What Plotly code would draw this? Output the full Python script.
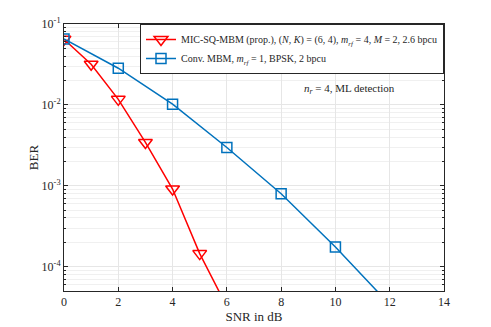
import plotly.graph_objects as go

snr_prop = [0, 1, 2, 3, 4, 5, 6]
ber_prop = [0.0648, 0.0318, 0.0117, 0.00343, 9.1e-4, 1.45e-4, 3.2e-5]

snr_conv = [0, 2, 4, 6, 8, 10, 12]
ber_conv = [0.0652, 0.0284, 0.0102, 0.00297, 7.96e-4, 1.75e-4, 3.4e-5]

y_tickvals = [1e-4, 1e-3, 1e-2, 1e-1]
y_ticktext = ["10<sup>-4</sup>", "10<sup>-3</sup>", "10<sup>-2</sup>", "10<sup>-1</sup>"]
y_minorvals = [m * 10.0 ** e for e in range(-5, -1) for m in range(2, 10)]

name_prop = ("MIC-SQ-MBM (prop.), (<i>N</i>, <i>K</i>) = (6, 4), <i>m</i><sub><i>rf</i></sub> = 4, "
             "<i>M</i> = 2, 2.6 bpcu")
name_conv = "Conv. MBM, <i>m</i><sub><i>rf</i></sub> = 1, BPSK, 2 bpcu"

FONT = "Liberation Serif"

fig = go.Figure()
fig.add_trace(go.Scatter(
    x=snr_prop, y=ber_prop, mode="lines+markers", name=name_prop,
    line=dict(color="#ff0000", width=1.5),
    marker=dict(symbol="triangle-down-open", size=12, color="#ff0000", line=dict(width=1.5)),
))
fig.add_trace(go.Scatter(
    x=snr_conv, y=ber_conv, mode="lines+markers", name=name_conv,
    line=dict(color="#0072bd", width=1.5),
    marker=dict(symbol="square-open", size=10, color="#0072bd", line=dict(width=1.5)),
))

axis_common = dict(
    showline=True, linecolor="#262626", linewidth=1, mirror="ticks",
    ticks="inside", ticklen=4, tickcolor="#262626", automargin=False,
    showgrid=True, gridcolor="#e6e6e6", gridwidth=1, zeroline=False,
    tickfont=dict(family=FONT, size=12, color="#262626"),
)

fig.update_xaxes(range=[0, 14], dtick=2, tick0=0,
                 title=dict(text="SNR in dB", font=dict(family=FONT, size=13, color="#262626"), standoff=2),
                 **axis_common)
fig.update_yaxes(type="log", range=[-4.301, -1], tickvals=y_tickvals, ticktext=y_ticktext,
                 title=dict(text="BER", font=dict(family=FONT, size=13, color="#262626"), standoff=0),
                 minor=dict(tickvals=y_minorvals, ticks="inside", ticklen=2, tickcolor="#262626",
                            showgrid=True, gridcolor="#f0f0f0"),
                 **axis_common)

fig.add_annotation(x=10.5, y=-1.8, xref="x", yref="y", text="<i>n</i><sub><i>r</i></sub> = 4, ML detection",
                   showarrow=False, font=dict(family=FONT, size=11, color="#262626"))

fig.update_layout(
    width=491, height=327,
    margin=dict(l=64, r=47, t=24, b=36),
    paper_bgcolor="white", plot_bgcolor="white",
    font=dict(family=FONT, color="#262626"),
    legend=dict(x=1, y=1, xanchor="right", yanchor="top",
                bgcolor="white", bordercolor="#262626", borderwidth=1,
                font=dict(family=FONT, size=10, color="#262626"),
                itemwidth=30, tracegroupgap=0),
    showlegend=True,
)

fig.write_html("out.html", config={"displayModeBar": False},
               post_script="document.body.style.margin='0';document.body.style.overflow='hidden';")
